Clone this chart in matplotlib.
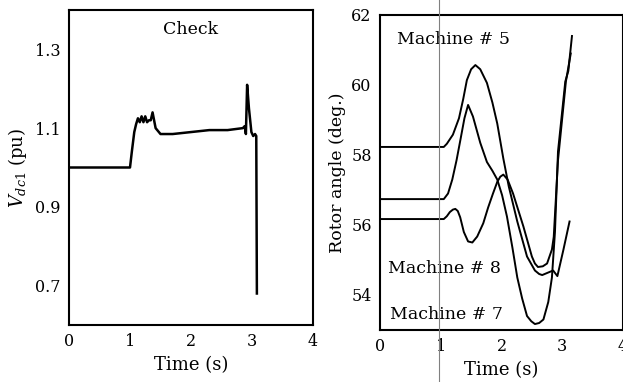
import numpy as np
import matplotlib
matplotlib.use("Agg")
import matplotlib.pyplot as plt
from matplotlib.lines import Line2D

plt.rcParams['font.family'] = ['DejaVu Serif']
plt.rcParams['mathtext.fontset'] = 'dejavuserif'

# left panel: dc voltage
t_v = [0, 1.0, 1.03, 1.07, 1.1, 1.13, 1.16, 1.19, 1.22, 1.25, 1.28, 1.31, 1.34, 1.37,
       1.42, 1.5, 1.7, 2.0, 2.3, 2.6, 2.85, 2.88, 2.9, 2.92, 2.95, 2.99, 3.02, 3.05,
       3.07, 3.08]
vdc = [1.0, 1.0, 1.04, 1.09, 1.11, 1.125, 1.115, 1.13, 1.115, 1.13, 1.115, 1.12, 1.12, 1.14,
       1.1, 1.085, 1.085, 1.09, 1.095, 1.095, 1.10, 1.105, 1.085, 1.21, 1.15, 1.09, 1.08,
       1.085, 1.08, 0.68]

# right panel: rotor angles
t5 = [0, 1.05, 1.1, 1.2, 1.3, 1.37, 1.43, 1.5, 1.57, 1.65, 1.76, 1.85, 1.93, 2.03, 2.12,
      2.26, 2.42, 2.55, 2.62, 2.67, 2.78, 2.85, 2.92, 3.02, 3.12]
m5 = [58.23, 58.23, 58.32, 58.58, 59.05, 59.6, 60.14, 60.45, 60.57, 60.45, 60.06, 59.5,
      58.9, 57.9, 57.1, 56.1, 55.1, 54.7, 54.6, 54.57, 54.65, 54.7, 54.54, 55.3, 56.1]

t7 = [0, 1.05, 1.12, 1.19, 1.26, 1.32, 1.39, 1.45, 1.53, 1.65, 1.76, 1.85, 1.93, 2.01,
      2.09, 2.18, 2.26, 2.34, 2.42, 2.49, 2.55, 2.62, 2.69, 2.77, 2.83, 2.88, 2.93, 3.05,
      3.1, 3.16]
m7 = [56.74, 56.74, 56.9, 57.3, 57.85, 58.4, 59.05, 59.43, 59.1, 58.35, 57.8, 57.55, 57.3,
      56.85, 56.24, 55.35, 54.5, 53.9, 53.4, 53.25, 53.17, 53.2, 53.3, 53.8, 54.5, 55.8,
      58.1, 60.1, 60.4, 61.4]

t8 = [0, 1.05, 1.1, 1.15, 1.2, 1.24, 1.28, 1.32, 1.38, 1.45, 1.52, 1.6, 1.7, 1.78, 1.86,
      1.93, 1.98, 2.03, 2.1, 2.19, 2.36, 2.5, 2.55, 2.6, 2.68, 2.75, 2.83, 2.86, 2.93,
      3.06, 3.14]
m8 = [56.17, 56.17, 56.25, 56.37, 56.44, 56.46, 56.4, 56.22, 55.8, 55.53, 55.5, 55.67,
      56.05, 56.5, 56.9, 57.23, 57.38, 57.44, 57.3, 56.9, 55.96, 55.1, 54.9, 54.8, 54.82,
      54.9, 55.3, 55.66, 57.85, 60.1, 60.9]

fig = plt.figure(figsize=(6.23, 3.82), dpi=100)

ax1 = fig.add_axes([69/623, 1-325/382, (313-69)/623, (325-10)/382])
ax1.plot(t_v, vdc, color='k', lw=1.8)
ax1.set_xlim(0, 4)
ax1.set_ylim(0.6, 1.4)
ax1.set_xticks([0, 1, 2, 3, 4])
ax1.set_yticks([0.7, 0.9, 1.1, 1.3])
ax1.set_xlabel('Time (s)', fontsize=13)
ax1.set_ylabel(r'$V_{dc1}$ (pu)', fontsize=13)
ax1.text(2.0, 1.35, 'Check', ha='center', va='center', fontsize=12.5)

ax2 = fig.add_axes([380/623, 1-330/382, (623-380)/623, (330-15)/382])
ax2.plot(t5, m5, color='k', lw=1.4)
ax2.plot(t7, m7, color='k', lw=1.4)
ax2.plot(t8, m8, color='k', lw=1.4)
ax2.set_xlim(0, 4)
ax2.set_ylim(53, 62)
ax2.set_xticks([0, 1, 2, 3, 4])
ax2.set_yticks([54, 56, 58, 60, 62])
ax2.set_xlabel('Time (s)', fontsize=13)
ax2.set_ylabel('Rotor angle (deg.)', fontsize=12.5)
ax2.text(0.28, 61.3, 'Machine # 5', ha='left', va='center', fontsize=12.5)
ax2.text(0.13, 54.75, 'Machine # 8', ha='left', va='center', fontsize=12.5)
ax2.text(0.17, 53.45, 'Machine # 7', ha='left', va='center', fontsize=12.5)

for ax in (ax1, ax2):
    ax.tick_params(direction='in', length=0, labelsize=11.5, pad=6)
    for s in ax.spines.values():
        s.set_linewidth(1.5)

fig.add_artist(Line2D([439/623, 439/623], [0, 1], transform=fig.transFigure,
                      color='gray', lw=0.8))

fig.savefig('out.png', dpi=100)
